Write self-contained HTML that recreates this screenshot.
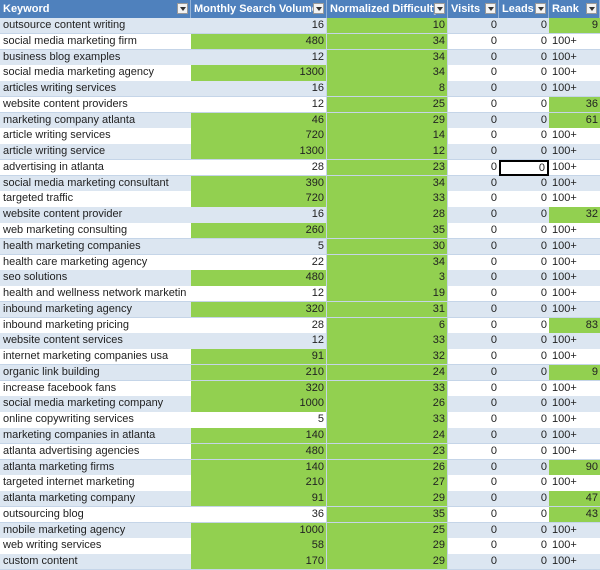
<!DOCTYPE html>
<html><head><meta charset="utf-8"><style>
body{margin:0;width:600px;height:570px;overflow:hidden;background:#fff;font-family:"Liberation Sans",sans-serif;}
.c{position:absolute;box-sizing:border-box;font-size:11px;line-height:15px;white-space:nowrap;overflow:hidden;color:#222;}
.h{background:#4f81bd;color:#fff;font-weight:bold;font-size:11px;height:18px;line-height:18px;padding-left:3px;border-right:1px solid #95b3d7;}
.dd{position:absolute;right:2px;top:3px;width:11px;height:11px;background:#f2f2f2;border:1px solid #999;box-sizing:border-box;}
.dd:after{content:"";position:absolute;left:2px;top:3px;border-left:3px solid transparent;border-right:3px solid transparent;border-top:4px solid #333;}
.r{text-align:right;padding-right:2px;}
</style></head><body><div id="t"></div>
<script>
var cols=[0,191,327,448,499,549,600];
var d=[["outsource content writing",16,10,"9"],["social media marketing firm",480,34,"100+"],["business blog examples",12,34,"100+"],["social media marketing agency",1300,34,"100+"],["articles writing services",16,8,"100+"],["website content providers",12,25,"36"],["marketing company atlanta",46,29,"61"],["article writing services",720,14,"100+"],["article writing service",1300,12,"100+"],["advertising in atlanta",28,23,"100+"],["social media marketing consultant",390,34,"100+"],["targeted traffic",720,33,"100+"],["website content provider",16,28,"32"],["web marketing consulting",260,35,"100+"],["health marketing companies",5,30,"100+"],["health care marketing agency",22,34,"100+"],["seo solutions",480,3,"100+"],["health and wellness network marketin",12,19,"100+"],["inbound marketing agency",320,31,"100+"],["inbound marketing pricing",28,6,"83"],["website content services",12,33,"100+"],["internet marketing companies usa",91,32,"100+"],["organic link building",210,24,"9"],["increase facebook fans",320,33,"100+"],["social media marketing company",1000,26,"100+"],["online copywriting services",5,33,"100+"],["marketing companies in atlanta",140,24,"100+"],["atlanta advertising agencies",480,23,"100+"],["atlanta marketing firms",140,26,"90"],["targeted internet marketing",210,27,"100+"],["atlanta marketing company",91,29,"47"],["outsourcing blog",36,35,"43"],["mobile marketing agency",1000,25,"100+"],["web writing services",58,29,"100+"],["custom content",170,29,"100+"]];
var hd=["Keyword","Monthly Search Volume","Normalized Difficulty","Visits","Leads","Rank"];
var h="";
for(var i=0;i<6;i++){h+='<div class="c h" style="left:'+cols[i]+'px;top:0;width:'+(cols[i+1]-cols[i])+'px">'+hd[i]+'<span class="dd"></span></div>';}
var G="#92d050",RH=15.77;
for(var r=0;r<d.length;r++){
 var y=18+r*RH,bg=r%2==0?"#dce6f1":"#fff",row=d[r];
 var vals=[row[0],row[1],row[2],0,0,row[3]];
 for(var i=0;i<6;i++){
  var b=bg;
  if(i==1&&row[1]>=46)b=G;
  if(i==2)b=G;
  var num=(i==5&&row[3]!="100+");
  if(num)b=G;
  var cls="c"+((i>0&&i<5)||num?" r":"");
  var st='left:'+cols[i]+'px;top:'+y.toFixed(2)+'px;width:'+(cols[i+1]-cols[i])+'px;height:'+(RH+0.5).toFixed(2)+'px;line-height:'+RH.toFixed(2)+'px;background:'+b+';border-bottom:1px solid #c5d5e8;';
  if(i==0||i==5)st+='padding-left:3px;';
  if(i==1||i==2)st+='border-right:1px solid #c5d5e8;';
  if(r==9&&i==4)st+='border:2px solid #000;line-height:12px;';
  h+='<div class="'+cls+'" style="'+st+'">'+vals[i]+'</div>';
 }
}
document.getElementById("t").innerHTML=h;
</script></body></html>
